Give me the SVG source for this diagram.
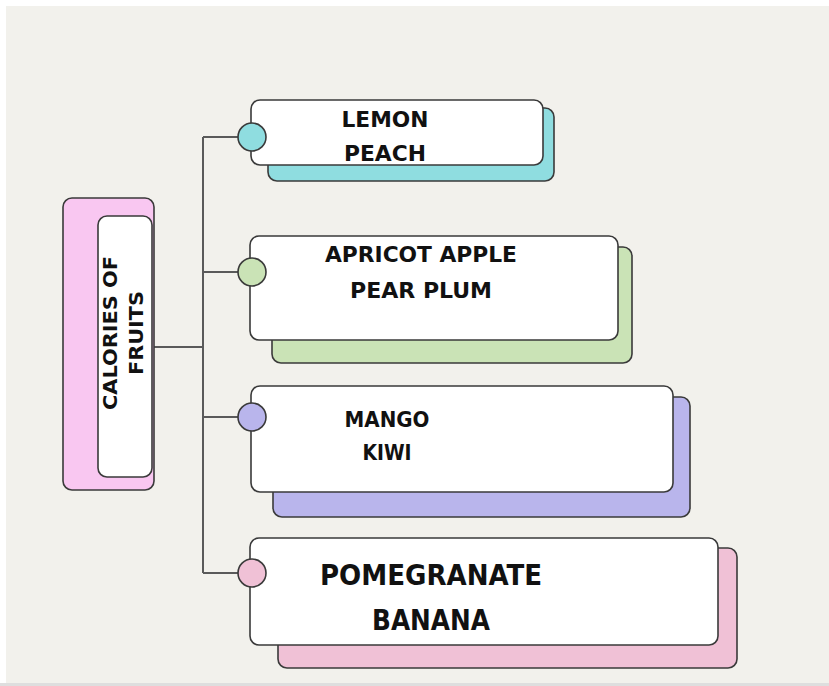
<svg xmlns="http://www.w3.org/2000/svg" width="829" height="686" viewBox="0 0 829 686">
<style>
.box{stroke:#3a3a3a;stroke-width:1.6}
.front{fill:#ffffff;stroke:#3a3a3a;stroke-width:1.6}
.dot{stroke:#3a3a3a;stroke-width:1.6}
.lbl{font-family:"DejaVu Sans Condensed","DejaVu Sans",sans-serif;font-weight:bold;fill:#111;text-anchor:middle}
.conn{fill:none;stroke:#5a5a5a;stroke-width:2}
</style>
<rect x="0" y="0" width="829" height="686" fill="#ffffff"/>
<rect x="6" y="6" width="823" height="677" fill="#f2f1ec"/>
<rect x="0" y="683" width="829" height="3" fill="#dedede"/>

<g id="connectors">
<path class="conn" d="M153 347 H203 M203 137 V573 M203 137 H240 M203 272 H240 M203 417 H240 M203 573 H240"/>
</g>

<g id="root">
<rect class="box" x="63" y="198" width="91" height="292" rx="9" fill="#f9c7f1"/>
<rect class="front" x="98" y="216" width="54" height="261" rx="9"/>
<text class="lbl" font-size="19" transform="translate(117 333) rotate(-90)" textLength="154" lengthAdjust="spacingAndGlyphs">CALORIES OF</text>
<text class="lbl" font-size="19" transform="translate(143 333) rotate(-90)" textLength="84" lengthAdjust="spacingAndGlyphs">FRUITS</text>
</g>

<g id="node-lemon">
<rect class="box" x="268" y="108" width="286" height="73" rx="9" fill="#8fdde0"/>
<rect class="front" x="251" y="100" width="292" height="65" rx="9"/>
<circle class="dot" cx="252" cy="137" r="14" fill="#8fdde0"/>
<text class="lbl" font-size="22" x="385" y="127" textLength="87" lengthAdjust="spacingAndGlyphs">LEMON</text>
<text class="lbl" font-size="22" x="385" y="161" textLength="82" lengthAdjust="spacingAndGlyphs">PEACH</text>
</g>

<g id="node-apricot">
<rect class="box" x="272" y="247" width="360" height="116" rx="9" fill="#cae3b6"/>
<rect class="front" x="250" y="236" width="368" height="104" rx="9"/>
<circle class="dot" cx="252" cy="272" r="14" fill="#cae3b6"/>
<text class="lbl" font-size="22" x="421" y="262" textLength="192" lengthAdjust="spacingAndGlyphs">APRICOT APPLE</text>
<text class="lbl" font-size="22" x="421" y="298" textLength="142" lengthAdjust="spacingAndGlyphs">PEAR PLUM</text>
</g>

<g id="node-mango">
<rect class="box" x="273" y="397" width="417" height="120" rx="9" fill="#b9b5ec"/>
<rect class="front" x="251" y="386" width="422" height="106" rx="9"/>
<circle class="dot" cx="252" cy="417" r="14" fill="#b9b5ec"/>
<text class="lbl" font-size="22" x="387" y="427" textLength="85" lengthAdjust="spacingAndGlyphs">MANGO</text>
<text class="lbl" font-size="22" x="387" y="460" textLength="49" lengthAdjust="spacingAndGlyphs">KIWI</text>
</g>

<g id="node-pomegranate">
<rect class="box" x="278" y="548" width="459" height="120" rx="9" fill="#f0c1d6"/>
<rect class="front" x="250" y="538" width="468" height="107" rx="9"/>
<circle class="dot" cx="252" cy="573" r="14" fill="#f0c1d6"/>
<text class="lbl" font-size="29" x="431" y="585" textLength="222" lengthAdjust="spacingAndGlyphs">POMEGRANATE</text>
<text class="lbl" font-size="29" x="431" y="630" textLength="118" lengthAdjust="spacingAndGlyphs">BANANA</text>
</g>
</svg>
